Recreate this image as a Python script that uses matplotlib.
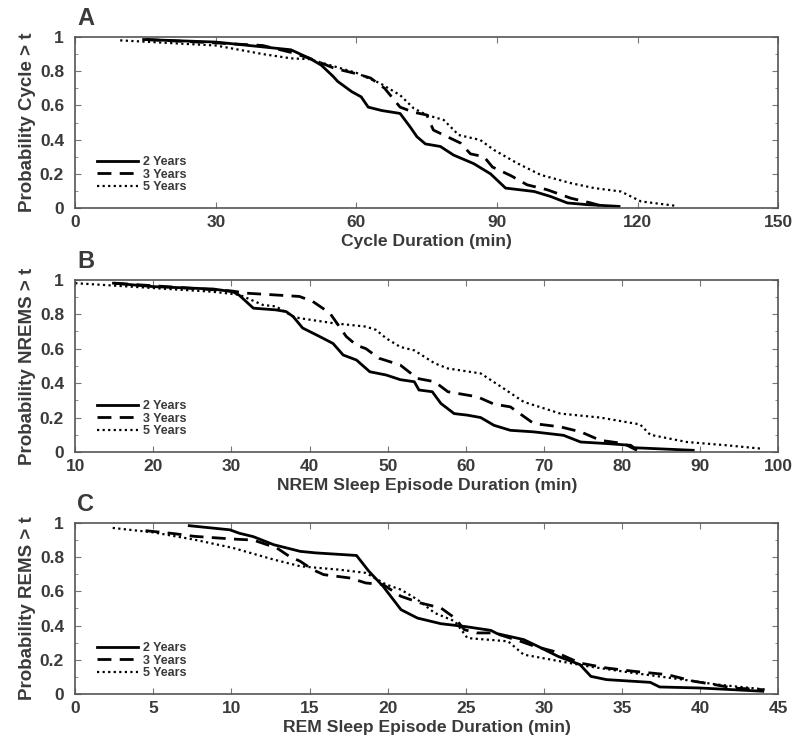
import numpy as np
import matplotlib.pyplot as plt
from matplotlib.ticker import MultipleLocator

# panel A - cycle duration (min) vs survival probability
cyc_2y_x = [14.6, 30, 46, 50, 52.5, 55, 56, 59, 61, 62.5, 65.4, 69.3, 71.4, 72.9, 74.7, 77.9, 80.7, 85, 88.6, 91.8, 97.9, 101.4, 105, 109.3, 116]
cyc_2y_y = [0.985, 0.97, 0.925, 0.875, 0.835, 0.77, 0.74, 0.68, 0.65, 0.59, 0.57, 0.553, 0.476, 0.417, 0.375, 0.36, 0.31, 0.26, 0.2, 0.117, 0.097, 0.068, 0.03, 0.02, 0.01]
cyc_3y_x = [15, 30, 40, 46, 50, 55, 57, 60, 63, 66, 69.3, 72.2, 75, 76.4, 78.6, 82.2, 84.3, 87.2, 89, 92.9, 96.4, 100.7, 105.7, 110, 112]
cyc_3y_y = [0.985, 0.965, 0.95, 0.91, 0.875, 0.82, 0.805, 0.785, 0.76, 0.7, 0.59, 0.56, 0.544, 0.456, 0.427, 0.38, 0.317, 0.3, 0.24, 0.19, 0.136, 0.107, 0.058, 0.03, 0.015]
cyc_5y_x = [9.6, 30, 40, 46, 50, 55, 60, 65, 69.3, 72.2, 75, 78.6, 81.8, 86.4, 89.3, 94.3, 99.3, 105.7, 110.7, 116.4, 120.7, 127.9]
cyc_5y_y = [0.98, 0.95, 0.9, 0.875, 0.87, 0.83, 0.79, 0.73, 0.66, 0.583, 0.544, 0.515, 0.427, 0.398, 0.34, 0.262, 0.194, 0.146, 0.117, 0.097, 0.039, 0.014]

# panel B - NREM episode duration
nrem_2y_x = [14.9, 20, 27.7, 30.2, 31, 32.8, 35.7, 37, 37.9, 39.1, 41.3, 43, 44.3, 46, 47.7, 49.8, 51.6, 53.4, 54.0, 55.7, 56.8, 58.5, 60.2, 61.9, 63.6, 65.7, 68.7, 72.5, 74.7, 78.1, 81.1, 81.5, 89.1]
nrem_2y_y = [0.98, 0.96, 0.946, 0.93, 0.91, 0.835, 0.825, 0.815, 0.786, 0.72, 0.67, 0.63, 0.563, 0.534, 0.466, 0.447, 0.42, 0.408, 0.36, 0.35, 0.282, 0.223, 0.214, 0.2, 0.155, 0.126, 0.117, 0.097, 0.058, 0.049, 0.039, 0.025, 0.01]
nrem_3y_x = [15, 30, 31.9, 38.7, 40.4, 42.6, 44.7, 46, 47.2, 48.9, 51.6, 53.8, 56, 57.7, 61.5, 63.6, 65.7, 68.7, 72.1, 74.7, 77.2, 80.2, 81.9]
nrem_3y_y = [0.98, 0.935, 0.922, 0.903, 0.874, 0.806, 0.67, 0.62, 0.6, 0.544, 0.505, 0.427, 0.408, 0.35, 0.32, 0.278, 0.262, 0.165, 0.146, 0.117, 0.068, 0.049, 0.01]
nrem_5y_x = [10, 27.7, 31, 34, 35.7, 37.9, 38.7, 43, 47.2, 48.5, 49.8, 51.6, 53.4, 56, 57.7, 61.9, 64.5, 67.4, 72.1, 77.2, 82.3, 83.6, 88.3, 93.4, 97.7]
nrem_5y_y = [0.98, 0.93, 0.913, 0.854, 0.845, 0.786, 0.777, 0.748, 0.728, 0.709, 0.66, 0.61, 0.59, 0.515, 0.485, 0.456, 0.379, 0.291, 0.223, 0.2, 0.16, 0.1, 0.058, 0.039, 0.02]

# panel C - REM episode duration
rem_2y_x = [7.3, 9.9, 10.5, 11.4, 12.7, 14.4, 15.4, 18, 18.8, 19.7, 20.85, 21.9, 23.4, 24.9, 26.6, 27, 28.7, 29.6, 30.9, 32.3, 33, 34.0, 36.8, 37.4, 40, 44]
rem_2y_y = [0.984, 0.96, 0.94, 0.92, 0.873, 0.834, 0.825, 0.81, 0.717, 0.63, 0.493, 0.444, 0.411, 0.395, 0.372, 0.353, 0.318, 0.279, 0.22, 0.172, 0.103, 0.084, 0.068, 0.041, 0.035, 0.016]
rem_3y_x = [4.5, 6.3, 7.6, 10.1, 11.4, 12.9, 13.7, 14.4, 15.2, 15.9, 17.6, 18.6, 19.7, 20.85, 22.1, 23.4, 24.3, 24.9, 25.7, 26.8, 28.5, 29.4, 30.6, 32.3, 34.0, 35.7, 37.9, 39.6, 40.9, 42.1, 44]
rem_3y_y = [0.955, 0.938, 0.922, 0.906, 0.9, 0.854, 0.805, 0.776, 0.727, 0.698, 0.678, 0.649, 0.64, 0.571, 0.532, 0.503, 0.444, 0.376, 0.357, 0.357, 0.308, 0.279, 0.25, 0.181, 0.152, 0.133, 0.113, 0.074, 0.055, 0.035, 0.025]
rem_5y_x = [2.4, 5, 7.6, 10.1, 12.7, 14.4, 15.6, 16.9, 18.6, 19.9, 20.85, 21.9, 23, 24.3, 25.1, 27.7, 28.7, 31.1, 32.8, 35.7, 38.9, 41.1, 44.3]
rem_5y_y = [0.971, 0.945, 0.903, 0.854, 0.786, 0.747, 0.737, 0.727, 0.708, 0.64, 0.61, 0.552, 0.474, 0.425, 0.327, 0.308, 0.23, 0.19, 0.162, 0.123, 0.084, 0.055, 0.025]

labels = ['2 Years', '3 Years', '5 Years']
styles = [dict(ls='-', lw=2.0), dict(ls=(0, (5, 3)), lw=2.0), dict(ls=(0, (1, 1.5)), lw=1.6)]
txt = '#3a3a3a'

plt.rcParams['font.family'] = ['Liberation Sans', 'DejaVu Sans']
plt.rcParams['font.weight'] = 'bold'

fig = plt.figure(figsize=(8, 7.54), dpi=100)

panels = [
    ('A', [0.094, 0.724, 0.879, 0.227], [(cyc_2y_x, cyc_2y_y), (cyc_3y_x, cyc_3y_y), (cyc_5y_x, cyc_5y_y)],
     (0, 150), np.arange(0, 151, 30), 'Cycle Duration (min)', 'Probability Cycle > t'),
    ('B', [0.094, 0.4005, 0.879, 0.2285], [(nrem_2y_x, nrem_2y_y), (nrem_3y_x, nrem_3y_y), (nrem_5y_x, nrem_5y_y)],
     (10, 100), np.arange(10, 101, 10), 'NREM Sleep Episode Duration (min)', 'Probability NREMS > t'),
    ('C', [0.094, 0.0796, 0.879, 0.2268], [(rem_2y_x, rem_2y_y), (rem_3y_x, rem_3y_y), (rem_5y_x, rem_5y_y)],
     (0, 45), np.arange(0, 46, 5), 'REM Sleep Episode Duration (min)', 'Probability REMS > t'),
]

for letter, rect, series, xlim, xticks, xlabel, ylabel in panels:
    ax = fig.add_axes(rect)
    for (x, y), lab, st in zip(series, labels, styles):
        ax.plot(x, y, color='black', label=lab, **st)
    ax.set_xlim(*xlim)
    ax.set_ylim(0, 1)
    ax.set_xticks(xticks)
    ax.set_yticks([0, 0.2, 0.4, 0.6, 0.8, 1])
    ax.set_yticklabels(['0', '0.2', '0.4', '0.6', '0.8', '1'])
    ax.yaxis.set_minor_locator(MultipleLocator(0.1))
    ax.tick_params(which='both', direction='in', top=True, right=True, colors='#777777',
                   labelcolor=txt, labelsize=12.5)
    ax.tick_params(which='major', length=4)
    ax.tick_params(axis='y', which='major', pad=8)
    ax.tick_params(axis='x', which='major', pad=5)
    ax.tick_params(which='minor', length=2.5)
    for s in ax.spines.values():
        s.set_color('#555555')
        s.set_linewidth(1.2)
    ax.set_xlabel(xlabel, fontsize=12.6, fontweight='bold', color=txt, labelpad=3)
    ax.set_ylabel(ylabel, fontsize=13.5, fontweight='bold', color=txt, labelpad=3)
    ax.text(0.003, 1.04, letter, transform=ax.transAxes, fontsize=17, fontweight='bold',
            color=txt, va='bottom', ha='left')
    leg = ax.legend(loc='lower left', bbox_to_anchor=(0.015, 0.02), frameon=False,
                    fontsize=9, handlelength=3.3, labelspacing=0.05, handletextpad=0.35)
    for t in leg.get_texts():
        t.set_color(txt)
        t.set_fontweight('bold')

fig.savefig('out.png', dpi=100)
